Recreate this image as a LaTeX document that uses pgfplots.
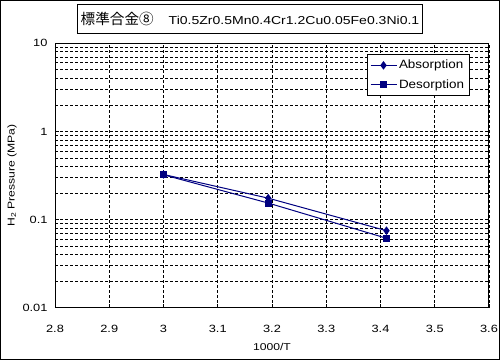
\documentclass[border=0pt]{standalone}
\usepackage{fontspec}
\setmainfont{Liberation Sans}[FakeStretch=1.22]
\newfontfamily\legfont{Liberation Sans}[FakeStretch=1.12]
\newfontfamily\cjk{Noto Sans CJK JP}
\usepackage{pgfplots}
\pgfplotsset{compat=1.18}
\definecolor{navy}{RGB}{0,0,128}
\begin{document}
\begin{tikzpicture}
\useasboundingbox (0,0) rectangle (500bp,360bp);
\draw[line width=1bp] (0.5bp,0.5bp) rectangle (499.5bp,359.5bp);
\node[draw,line width=0.8bp,minimum height=29bp,inner xsep=3.5bp,font=\fontsize{11.5bp}{14bp}\selectfont] at (250bp,341.5bp) {{\cjk\fontsize{14.6bp}{16bp}\selectfont 標準合金⑧}\hspace{15bp}Ti0.5Zr0.5Mn0.4Cr1.2Cu0.05Fe0.3Ni0.1};
\begin{axis}[
  at={(55bp,52.3bp)}, anchor=south west,
  scale only axis, width=434bp, height=264.4bp,
  xmin=2.8, xmax=3.6, ymin=0.01, ymax=10, ymode=log,
  xtick={2.8,2.9,3,3.1,3.2,3.3,3.4,3.5,3.6},
  xticklabels={2.8,2.9,3,3.1,3.2,3.3,3.4,3.5,3.6},
  ytick={0.01,0.1,1,10},
  yticklabels={0.01,0.1,1,10},
  xtick pos=bottom, ytick pos=left, tick align=inside,
  major tick length=4bp, minor tick length=3bp,
  grid=both,
  major grid style={black,dash pattern=on 3bp off 2bp,line width=0.75bp},
  minor grid style={black,dash pattern=on 3bp off 2bp,line width=0.75bp},
  axis line style={line width=1bp,black},
  every tick/.style={black,line width=0.8bp},
  tick label style={font=\fontsize{10.5bp}{12bp}\selectfont},
  xticklabel style={yshift=-14bp},
  yticklabel style={xshift=-4bp},
  xlabel={1000/T},
  ylabel={H\textsubscript{2} Pressure (MPa)},
  xlabel style={font=\fontsize{10.5bp}{12bp}\selectfont},
  ylabel style={font=\fontsize{12bp}{13bp}\selectfont},
  every axis x label/.style={at={(axis description cs:0.5,-0.149)},anchor=center},
  every axis y label/.style={at={(axis description cs:-0.099,0.5)},rotate=90,anchor=center},
  legend style={at={(0.718,0.96)},anchor=north west,draw=black,line width=0.8bp,
    font=\legfont\fontsize{12bp}{13bp}\selectfont,inner xsep=3bp,inner ysep=4bp,row sep=5bp,
    legend cell align=left},
  legend image code/.code={\draw[mark repeat=2,mark phase=2,#1] plot coordinates {(0bp,0bp)(13bp,0bp)(26bp,0bp)};},
]
\addplot[navy,line width=1bp,mark=diamond*,mark size=3.5bp,mark options={solid,fill=navy}]
  coordinates {(3.0,0.325) (3.193,0.175) (3.411,0.0748)};
\addlegendentry{Absorption}
\addplot[navy,line width=1bp,mark=square*,mark size=3bp,mark options={solid,fill=navy}]
  coordinates {(3.0,0.322) (3.193,0.154) (3.411,0.0614)};
\addlegendentry{Desorption}
\end{axis}
\end{tikzpicture}
\end{document}
